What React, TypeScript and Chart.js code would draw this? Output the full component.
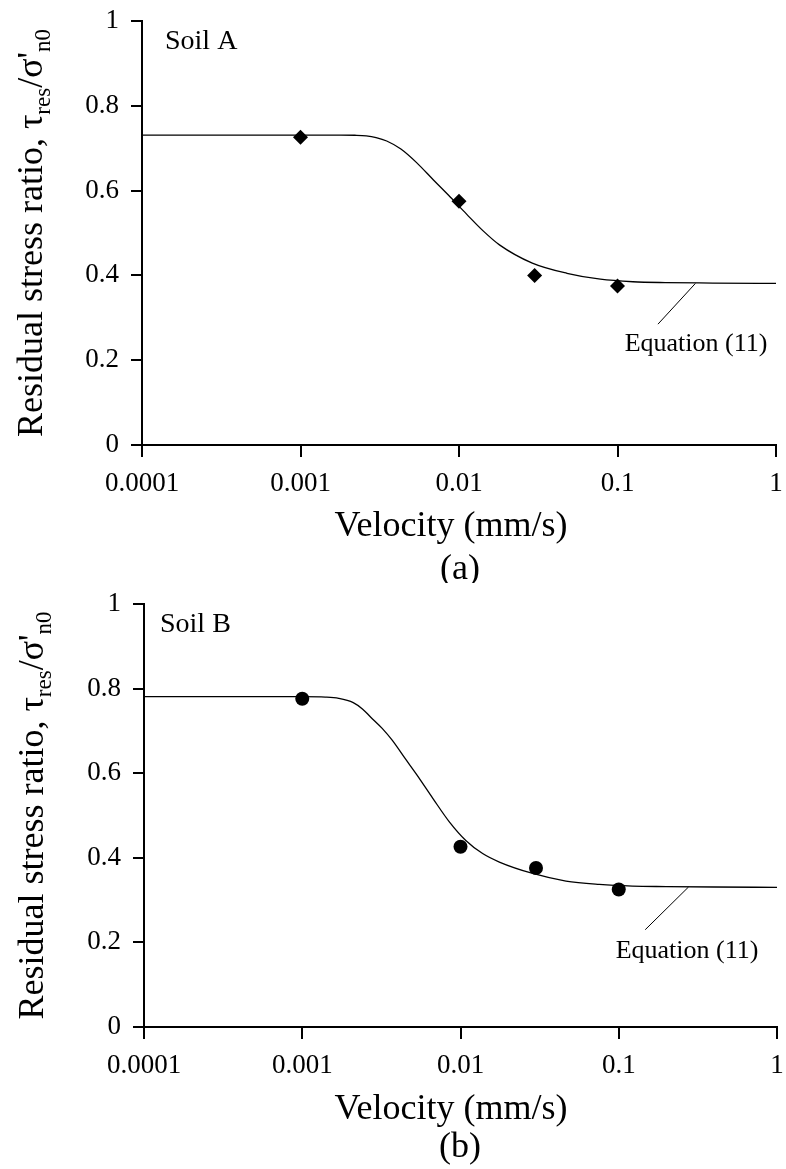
import React, { useEffect, useRef } from 'react';
import { Chart, registerables } from 'chart.js';

Chart.register(...registerables);

// ---------- data ----------
const X_TICK_VALUES = [0.0001, 0.001, 0.01, 0.1, 1];
const X_TICK_LABELS = ['0.0001', '0.001', '0.01', '0.1', '1'];
const Y_TICK_VALUES = [0, 0.2, 0.4, 0.6, 0.8, 1];
const Y_TICK_LABELS = ['0', '0.2', '0.4', '0.6', '0.8', '1'];

const SOIL_A_VELOCITY = [0.001, 0.01, 0.03, 0.1];
const SOIL_A_RATIO = [0.726, 0.575, 0.4, 0.375];
const SOIL_A_FIT_VELOCITY = [0.0001, 0.001, 0.0018, 0.0022, 0.0026, 0.003, 0.0035, 0.0043, 0.0054, 0.0069, 0.0088, 0.0112, 0.0142, 0.018, 0.029, 0.048, 0.078, 0.125, 0.2, 0.4, 1];
const SOIL_A_FIT_RATIO = [0.731, 0.731, 0.731, 0.7305, 0.729, 0.725, 0.717, 0.698, 0.666, 0.625, 0.585, 0.544, 0.505, 0.472, 0.429, 0.405, 0.391, 0.385, 0.383, 0.382, 0.381];
const SOIL_A_LEADER_VELOCITY = [0.18, 0.31];
const SOIL_A_LEADER_RATIO = [0.285, 0.381];

const SOIL_B_VELOCITY = [0.001, 0.01, 0.03, 0.1];
const SOIL_B_RATIO = [0.776, 0.426, 0.376, 0.325];
const SOIL_B_FIT_VELOCITY = [0.0001, 0.001, 0.0014, 0.0017, 0.0021, 0.0024, 0.0027, 0.0032, 0.0037, 0.0045, 0.0053, 0.0067, 0.0085, 0.0108, 0.0138, 0.0176, 0.0286, 0.0464, 0.0753, 0.122, 0.2, 0.4, 1];
const SOIL_B_FIT_RATIO = [0.781, 0.781, 0.78, 0.777, 0.767, 0.752, 0.733, 0.706, 0.678, 0.633, 0.596, 0.54, 0.485, 0.441, 0.41, 0.39, 0.363, 0.345, 0.337, 0.333, 0.332, 0.331, 0.33];
const SOIL_B_LEADER_VELOCITY = [0.147, 0.276];
const SOIL_B_LEADER_RATIO = [0.23, 0.331];

const X_TITLE = 'Velocity (mm/s)';
const EQUATION_LABEL = 'Equation (11)';

const SERIF = "'Liberation Serif', 'Times New Roman', Times, serif";

const pts = (xs: number[], ys: number[]) => xs.map((x, i) => ({ x, y: ys[i] }));

type PanelProps = {
  height: number;
  plotTop: number;
  plotBottom: number;
  plotLeft: number;
  plotRight: number;
  velocity: number[];
  ratio: number[];
  fitVelocity: number[];
  fitRatio: number[];
  leaderVelocity: number[];
  leaderRatio: number[];
  markerStyle: 'rectRot' | 'circle';
  markerRadius: number;
  soil: string;
  soilX: number;
  soilBaseline: number;
  eqVelocity: number;
  eqRatio: number;
  panel: string;
  xTitleX: number;
  xTitleY: number;
  panelX: number;
  panelY: number;
  yTitleX: number;
};

const textPlugin = {
  id: 'panelText',
  afterDraw(chart: any, _args: any, opts: any) {
    const ctx: CanvasRenderingContext2D = chart.ctx;
    const xs = chart.scales.x;
    const ys = chart.scales.y;
    const area = chart.chartArea;
    ctx.save();
    ctx.fillStyle = '#000';

    ctx.font = `28px ${SERIF}`;
    ctx.textAlign = 'left';
    ctx.textBaseline = 'alphabetic';
    ctx.fillText(opts.soil, opts.soilX, opts.soilBaseline);

    ctx.font = `26px ${SERIF}`;
    ctx.textAlign = 'center';
    ctx.textBaseline = 'middle';
    ctx.fillText(EQUATION_LABEL, xs.getPixelForValue(opts.eqVelocity), ys.getPixelForValue(opts.eqRatio));

    ctx.font = `36px ${SERIF}`;
    ctx.fillText(X_TITLE, opts.xTitleX, opts.xTitleY);
    ctx.fillText(opts.panel, opts.panelX, opts.panelY);

    // y-axis title with subscripts
    const segs = [
      { t: 'Residual stress ratio, ', s: 36, dy: 0 },
      { t: 'τ', s: 36, dy: 0 },
      { t: 'res', s: 23, dy: 8 },
      { t: '/', s: 36, dy: 0 },
      { t: 'σ', s: 36, dy: 0 },
      { t: "'", s: 36, dy: 0 },
      { t: 'n0', s: 23, dy: 8 },
    ];
    let total = 0;
    const widths = segs.map((g) => {
      ctx.font = `${g.s}px ${SERIF}`;
      const w = ctx.measureText(g.t).width;
      total += w;
      return w;
    });
    ctx.translate(opts.yTitleX, (area.top + area.bottom) / 2);
    ctx.rotate(-Math.PI / 2);
    ctx.textAlign = 'left';
    ctx.textBaseline = 'alphabetic';
    let u = -total / 2;
    segs.forEach((g, i) => {
      ctx.font = `${g.s}px ${SERIF}`;
      ctx.fillText(g.t, u, g.dy);
      u += widths[i];
    });
    ctx.restore();
  },
};

function Panel(p: PanelProps) {
  const ref = useRef<HTMLCanvasElement | null>(null);
  useEffect(() => {
    if (!ref.current) return;
    const chart = new Chart(ref.current, {
      type: 'scatter',
      data: {
        datasets: [
          {
            data: pts(p.fitVelocity, p.fitRatio),
            showLine: true,
            borderColor: '#000',
            borderWidth: 1.3,
            pointRadius: 0,
            cubicInterpolationMode: 'monotone',
            fill: false,
          } as any,
          {
            data: pts(p.leaderVelocity, p.leaderRatio),
            showLine: true,
            borderColor: '#000',
            borderWidth: 1,
            pointRadius: 0,
            fill: false,
          } as any,
          {
            data: pts(p.velocity, p.ratio),
            showLine: false,
            pointStyle: p.markerStyle,
            pointRadius: p.markerRadius,
            backgroundColor: '#000',
            borderColor: '#000',
            borderWidth: 0,
          } as any,
        ],
      },
      options: {
        animation: false,
        responsive: false,
        devicePixelRatio: 1,
        events: [],
        layout: {
          padding: { left: 0, right: 786 - p.plotRight, top: p.plotTop, bottom: 0 },
        },
        plugins: {
          legend: { display: false },
          tooltip: { enabled: false },
          panelText: {
            soil: p.soil,
            soilX: p.soilX,
            soilBaseline: p.soilBaseline,
            eqVelocity: p.eqVelocity,
            eqRatio: p.eqRatio,
            panel: p.panel,
            xTitleX: p.xTitleX,
            xTitleY: p.xTitleY,
            panelX: p.panelX,
            panelY: p.panelY,
            yTitleX: p.yTitleX,
          },
        } as any,
        scales: {
          x: {
            type: 'logarithmic',
            position: 'bottom',
            min: 0.0001,
            max: 1,
            afterBuildTicks: (scale: any) => {
              scale.ticks = X_TICK_VALUES.map((v) => ({ value: v }));
            },
            afterFit: (scale: any) => {
              scale.height = p.height - p.plotBottom;
              scale.paddingLeft = 0;
              scale.paddingRight = 0;
            },
            ticks: {
              autoSkip: false,
              maxRotation: 0,
              minRotation: 0,
              padding: 11,
              color: '#000',
              font: { family: SERIF, size: 27 },
              callback: (_v: any, i: number) => X_TICK_LABELS[i],
            },
            grid: {
              display: true,
              drawOnChartArea: false,
              drawTicks: true,
              tickLength: 12,
              tickWidth: 2,
              color: '#000',
              lineWidth: 2,
            },
            border: { display: true, color: '#000', width: 2 },
          },
          y: {
            type: 'linear',
            position: 'left',
            min: 0,
            max: 1,
            afterBuildTicks: (scale: any) => {
              scale.ticks = Y_TICK_VALUES.map((v) => ({ value: v }));
            },
            afterFit: (scale: any) => {
              scale.width = p.plotLeft;
              scale.paddingTop = 0;
              scale.paddingBottom = 0;
            },
            ticks: {
              padding: 12,
              color: '#000',
              font: { family: SERIF, size: 27 },
              callback: (_v: any, i: number) => Y_TICK_LABELS[i],
            },
            grid: {
              display: true,
              drawOnChartArea: false,
              drawTicks: true,
              tickLength: 11,
              tickWidth: 2,
              color: '#000',
              lineWidth: 2,
            },
            border: { display: true, color: '#000', width: 2 },
          },
        },
      } as any,
      plugins: [textPlugin as any],
    });
    return () => chart.destroy();
  }, []);
  return <canvas ref={ref} width={786} height={p.height} style={{ display: 'block', width: 786, height: p.height }} />;
}

export default function App() {
  return (
    <div style={{ position: 'absolute', left: 0, top: 0, width: 786, height: 1169, background: '#fff' }}>
      <Panel
        height={583}
        plotTop={21}
        plotBottom={445}
        plotLeft={142}
        plotRight={776}
        velocity={SOIL_A_VELOCITY}
        ratio={SOIL_A_RATIO}
        fitVelocity={SOIL_A_FIT_VELOCITY}
        fitRatio={SOIL_A_FIT_RATIO}
        leaderVelocity={SOIL_A_LEADER_VELOCITY}
        leaderRatio={SOIL_A_LEADER_RATIO}
        markerStyle="rectRot"
        markerRadius={7.5}
        soil="Soil A"
        soilX={165}
        soilBaseline={49}
        eqVelocity={0.313}
        eqRatio={0.238}
        panel="(a)"
        xTitleX={451}
        xTitleY={527}
        panelX={460}
        panelY={570}
        yTitleX={42}
      />
      <Panel
        height={586}
        plotTop={21}
        plotBottom={444}
        plotLeft={144}
        plotRight={777}
        velocity={SOIL_B_VELOCITY}
        ratio={SOIL_B_RATIO}
        fitVelocity={SOIL_B_FIT_VELOCITY}
        fitRatio={SOIL_B_FIT_RATIO}
        leaderVelocity={SOIL_B_LEADER_VELOCITY}
        leaderRatio={SOIL_B_LEADER_RATIO}
        markerStyle="circle"
        markerRadius={7}
        soil="Soil B"
        soilX={160}
        soilBaseline={49}
        eqVelocity={0.27}
        eqRatio={0.179}
        panel="(b)"
        xTitleX={451}
        xTitleY={527}
        panelX={460}
        panelY={565}
        yTitleX={43}
      />
    </div>
  );
}
